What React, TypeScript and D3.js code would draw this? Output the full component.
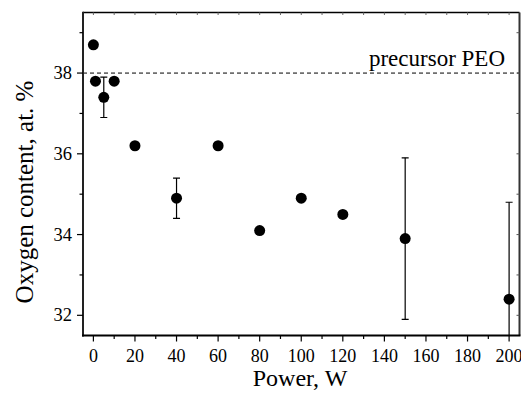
import React from "react";
import * as d3 from "d3";

const powerW = [0, 1, 5, 10, 20, 40, 60, 80, 100, 120, 150, 200];
const oxygenPct = [38.7, 37.8, 37.4, 37.8, 36.2, 34.9, 36.2, 34.1, 34.9, 34.5, 33.9, 32.4];
const errorPct = [0, 0, 0.5, 0, 0, 0.5, 0, 0, 0, 0, 2.0, 2.4];
const xTicks = [0, 20, 40, 60, 80, 100, 120, 140, 160, 180, 200];
const yTicks = [32, 34, 36, 38];
const precursorLevel = 38;
const precursorLabel = "precursor PEO";
const xLabel = "Power, W";
const yLabel = "Oxygen content, at. %";

const W = 521;
const H = 396;
const L = 83;
const T = 12.5;
const R = 519.5;
const B = 335.5;

export default function App() {
  const x = d3.scaleLinear().domain([-5, 205]).range([L, R]);
  const y = d3.scaleLinear().domain([31.5, 39.5]).range([B, T]);
  const xMinor = d3.range(10, 200, 20);
  const yMinor = [33, 35, 37, 39];
  const xTop = d3.range(0, 201, 10);
  const yRight = d3.range(32, 40, 1);
  const font = "'Liberation Serif', 'Times New Roman', serif";

  return (
    <svg
      width={W}
      height={H}
      style={{ position: "absolute", left: 0, top: 0, background: "#fff" }}
      fontFamily={font}
    >
      <defs>
        <clipPath id="plot">
          <rect x={L} y={T} width={R - L} height={B - T} />
        </clipPath>
      </defs>
      {/* dashed precursor line */}
      <line
        x1={L}
        x2={R}
        y1={y(precursorLevel)}
        y2={y(precursorLevel)}
        stroke="#000"
        strokeWidth={1}
        strokeDasharray="4,3"
      />
      <text x={505} y={66} textAnchor="end" fontSize={23} fill="#000">
        {precursorLabel}
      </text>

      {/* error bars */}
      <g clipPath="url(#plot)" stroke="#000" strokeWidth={1.2}>
        {powerW.map((p, i) =>
          errorPct[i] > 0 ? (
            <g key={i}>
              <line x1={x(p)} x2={x(p)} y1={y(oxygenPct[i] + errorPct[i])} y2={y(oxygenPct[i] - errorPct[i])} />
              <line x1={x(p) - 3.5} x2={x(p) + 3.5} y1={y(oxygenPct[i] + errorPct[i])} y2={y(oxygenPct[i] + errorPct[i])} />
              <line x1={x(p) - 3.5} x2={x(p) + 3.5} y1={y(oxygenPct[i] - errorPct[i])} y2={y(oxygenPct[i] - errorPct[i])} />
            </g>
          ) : null
        )}
      </g>
      {/* points */}
      <g>
        {powerW.map((p, i) => (
          <circle key={i} cx={x(p)} cy={y(oxygenPct[i])} r={5.5} fill="#000" />
        ))}
      </g>

      {/* frame */}
      <line x1={L} x2={R} y1={T} y2={T} stroke="#000" strokeWidth={1.5} />
      <line x1={R} x2={R} y1={T} y2={B} stroke="#333" strokeWidth={2} />
      <line x1={L} x2={L} y1={T - 0.75} y2={B + 1} stroke="#222" strokeWidth={2} />
      <line x1={L - 1} x2={R + 1} y1={B} y2={B} stroke="#000" strokeWidth={2} />

      {/* top minor ticks (inward) */}
      {xTop.map((v) => (
        <line key={"t" + v} x1={x(v)} x2={x(v)} y1={T} y2={T + 2.5} stroke="#666" strokeWidth={1} />
      ))}
      {/* right ticks (inward) */}
      {yRight.map((v) => (
        <line key={"r" + v} x1={R} x2={R - 3} y1={y(v)} y2={y(v)} stroke="#555" strokeWidth={1} />
      ))}

      {/* bottom ticks */}
      {xTicks.map((v) => (
        <g key={"x" + v}>
          <line x1={x(v)} x2={x(v)} y1={B} y2={B + 6} stroke="#000" strokeWidth={1.2} />
          <text x={x(v)} y={362} textAnchor="middle" fontSize={18} fill="#000">
            {v}
          </text>
        </g>
      ))}
      {xMinor.map((v) => (
        <line key={"xm" + v} x1={x(v)} x2={x(v)} y1={B} y2={B + 3.5} stroke="#000" strokeWidth={1.2} />
      ))}

      {/* left ticks */}
      {yTicks.map((v) => (
        <g key={"y" + v}>
          <line x1={L} x2={L - 6} y1={y(v)} y2={y(v)} stroke="#000" strokeWidth={1.2} />
          <text x={72} y={y(v) + 6} textAnchor="end" fontSize={18.5} fill="#000">
            {v}
          </text>
        </g>
      ))}
      {yMinor.map((v) => (
        <line key={"ym" + v} x1={L} x2={L - 3.5} y1={y(v)} y2={y(v)} stroke="#000" strokeWidth={1.2} />
      ))}

      {/* axis labels */}
      <text x={300} y={386} textAnchor="middle" fontSize={24} fill="#000">
        {xLabel}
      </text>
      <text
        transform={`translate(33, ${(T + B) / 2 + 18}) rotate(-90)`}
        textAnchor="middle"
        fontSize={25}
        fill="#000"
      >
        {yLabel}
      </text>
    </svg>
  );
}
